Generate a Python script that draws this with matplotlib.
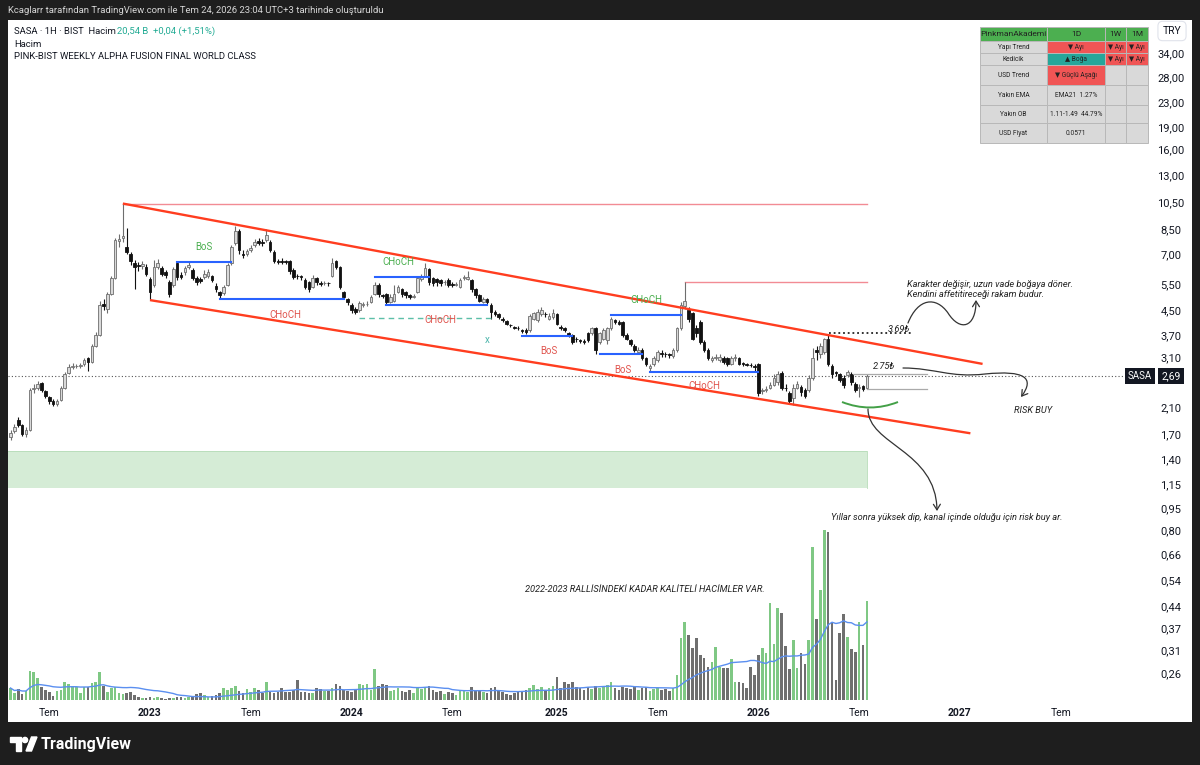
import matplotlib
matplotlib.use("Agg")
import matplotlib.pyplot as plt
import matplotlib.dates as mdates
from matplotlib.patches import Rectangle, PathPatch, FancyArrowPatch, Polygon, Circle
from matplotlib.path import Path
from matplotlib.ticker import NullLocator
import numpy as np
import pandas as pd

plt.rcParams['font.family'] = ['Roboto', 'DejaVu Sans']

# ---- weekly SASA candles ----
first_week = "2022-04-25"
opens = [1.66, 1.74, 1.90, 1.82, 1.70, 1.76, 2.42, 2.45, 2.53, 2.38,
         2.28, 2.20, 2.15, 2.22, 2.45, 2.75, 2.88, 2.90, 2.90, 2.94,
         3.08, 3.00, 3.40, 3.70, 4.72, 4.55, 5.10, 5.80, 7.75, 7.95,
         7.40, 7.00, 6.50, 6.42, 6.35, 6.30, 5.75, 5.50, 6.30, 6.25,
         6.05, 5.60, 5.50, 6.50, 5.95, 6.05, 6.30, 6.15, 5.80, 5.75,
         5.85, 5.90, 5.90, 5.45, 5.20, 5.15, 5.50, 6.50, 7.60, 8.40,
         7.00, 7.00, 7.20, 7.50, 7.75, 7.70, 7.80, 7.70, 7.10, 6.62,
         6.60, 6.60, 6.60, 6.15, 5.90, 5.88, 5.70, 5.60, 5.40, 5.80,
         5.56, 5.55, 5.56, 5.90, 6.60, 6.30, 5.20, 4.90, 4.70, 4.55,
         4.50, 4.70, 4.72, 4.80, 5.10, 5.50, 5.06, 5.10, 4.80, 4.85,
         5.20, 5.30, 5.20, 5.05, 5.00, 5.20, 5.75, 5.90, 6.20, 5.80,
         5.75, 5.70, 5.60, 5.70, 5.52, 5.50, 5.40, 5.78, 5.75, 5.70,
         5.30, 5.05, 4.80, 4.90, 4.70, 4.45, 4.35, 4.20, 4.12, 4.02,
         3.94, 3.92, 3.84, 3.86, 3.85, 4.20, 4.15, 4.35, 4.36, 4.20,
         4.25, 4.35, 3.95, 3.90, 3.75, 3.70, 3.60, 3.55, 3.52, 3.75,
         3.75, 3.90, 3.50, 3.60, 3.55, 3.90, 4.15, 4.10, 4.10, 3.70,
         3.55, 3.40, 3.25, 3.30, 3.10, 2.85, 2.95, 3.05, 3.22, 3.20,
         3.18, 3.15, 3.30, 3.90, 4.65, 4.50, 4.40, 3.90, 4.10, 3.50,
         3.30, 3.05, 3.10, 3.05, 3.10, 3.10, 2.95, 3.08, 3.10, 2.96,
         2.94, 2.93, 2.90, 2.95, 2.38, 2.40, 2.45, 2.50, 2.55, 2.75,
         2.45, 2.35, 2.25, 2.45, 2.46, 2.40, 2.40, 2.65, 3.30, 3.20,
         3.25, 3.60, 2.90, 2.76, 2.72, 2.65, 2.70, 2.72, 2.52, 2.44,
         2.47, 2.45]
closes = [1.72, 1.80, 1.82, 1.70, 1.76, 2.40, 2.44, 2.52, 2.40, 2.30,
          2.20, 2.15, 2.20, 2.45, 2.72, 2.88, 2.90, 2.91, 2.92, 3.03,
          3.00, 3.40, 3.70, 4.70, 4.66, 5.10, 5.80, 7.80, 7.90, 8.05,
          7.10, 6.60, 6.30, 6.35, 6.45, 6.00, 5.20, 6.30, 6.50, 6.00,
          5.95, 5.10, 6.20, 5.85, 5.85, 6.25, 6.40, 5.80, 5.60, 5.65,
          6.00, 6.05, 5.70, 5.30, 5.05, 5.40, 6.40, 7.40, 8.40, 7.20,
          6.95, 7.15, 7.35, 7.70, 7.65, 7.60, 8.10, 7.20, 6.60, 6.56,
          6.55, 6.55, 6.10, 5.85, 5.88, 5.85, 5.40, 5.30, 5.80, 5.60,
          5.54, 5.58, 5.55, 6.50, 6.30, 5.40, 5.00, 4.80, 4.52, 4.45,
          4.75, 4.72, 4.74, 5.00, 5.50, 5.10, 5.02, 4.80, 5.00, 5.10,
          5.40, 5.10, 5.05, 5.00, 5.02, 5.80, 5.90, 6.25, 5.60, 5.55,
          5.60, 5.55, 5.62, 5.50, 5.50, 5.52, 5.70, 5.82, 5.85, 5.30,
          5.05, 4.85, 4.90, 4.80, 4.45, 4.35, 4.25, 4.15, 4.05, 4.00,
          3.92, 3.90, 3.82, 3.78, 4.30, 4.40, 4.45, 4.50, 4.35, 4.30,
          4.40, 4.05, 3.90, 3.85, 3.70, 3.50, 3.58, 3.52, 3.50, 3.55,
          3.90, 3.30, 3.75, 3.85, 3.90, 4.20, 4.10, 4.05, 3.70, 3.60,
          3.45, 3.30, 3.30, 3.10, 2.95, 2.90, 3.10, 3.25, 3.18, 3.18,
          3.16, 3.30, 3.90, 4.70, 4.85, 4.20, 3.60, 3.75, 3.50, 3.30,
          3.10, 3.10, 3.12, 3.12, 3.00, 2.95, 3.10, 3.12, 2.95, 2.95,
          2.93, 2.92, 2.88, 2.35, 2.40, 2.42, 2.50, 2.65, 2.72, 2.45,
          2.44, 2.20, 2.45, 2.52, 2.36, 2.30, 2.65, 3.10, 3.25, 3.40,
          3.60, 2.95, 2.72, 2.74, 2.60, 2.50, 2.76, 2.55, 2.40, 2.46,
          2.43, 2.69]
highs = [1.75, 1.84, 1.94, 1.84, 1.80, 2.45, 2.52, 2.58, 2.55, 2.40,
         2.30, 2.24, 2.24, 2.48, 2.76, 2.95, 2.96, 2.95, 2.96, 3.10,
         3.12, 3.45, 3.78, 4.85, 4.90, 5.20, 5.90, 7.95, 8.20, 10.40,
         8.60, 7.10, 6.70, 6.55, 6.60, 6.45, 5.85, 6.70, 6.75, 6.35,
         6.15, 5.70, 6.30, 6.55, 6.05, 6.35, 6.55, 6.25, 5.90, 5.85,
         6.15, 6.20, 5.95, 5.55, 5.25, 5.50, 6.50, 7.50, 8.75, 8.50,
         7.20, 7.30, 7.50, 7.90, 7.95, 7.85, 8.50, 7.80, 7.20, 6.75,
         6.80, 6.70, 6.70, 6.25, 6.00, 5.95, 5.80, 5.65, 5.95, 5.85,
         5.65, 5.65, 5.62, 6.80, 6.70, 6.35, 5.25, 4.95, 4.75, 4.60,
         4.85, 4.80, 4.85, 5.05, 5.60, 5.55, 5.10, 5.15, 5.10, 5.50,
         5.50, 5.35, 5.25, 5.10, 5.10, 5.85, 6.00, 6.50, 6.25, 5.85,
         5.80, 5.75, 5.70, 5.80, 5.60, 5.60, 5.80, 5.95, 6.10, 5.75,
         5.35, 5.10, 4.98, 4.95, 4.75, 4.50, 4.40, 4.25, 4.15, 4.05,
         3.98, 3.96, 3.88, 3.90, 4.35, 4.45, 4.55, 4.60, 4.45, 4.40,
         4.55, 4.40, 4.00, 3.95, 3.80, 3.72, 3.65, 3.60, 3.58, 3.80,
         3.95, 3.95, 3.80, 3.90, 3.95, 4.25, 4.20, 4.15, 4.12, 3.75,
         3.60, 3.45, 3.38, 3.35, 3.12, 2.95, 3.15, 3.30, 3.28, 3.25,
         3.22, 3.35, 3.95, 4.80, 5.60, 4.60, 4.45, 4.00, 4.15, 3.55,
         3.35, 3.15, 3.18, 3.18, 3.14, 3.12, 3.15, 3.18, 3.12, 3.00,
         2.98, 2.96, 2.95, 2.98, 2.45, 2.48, 2.56, 2.72, 2.80, 2.80,
         2.52, 2.38, 2.52, 2.58, 2.50, 2.44, 2.70, 3.35, 3.40, 3.48,
         3.62, 3.69, 2.95, 2.80, 2.75, 2.70, 2.82, 2.76, 2.55, 2.52,
         2.50, 2.72]
lows = [1.62, 1.72, 1.80, 1.68, 1.66, 1.74, 2.34, 2.40, 2.36, 2.26,
        2.16, 2.12, 2.12, 2.20, 2.42, 2.72, 2.84, 2.86, 2.86, 2.90,
        2.80, 2.98, 3.38, 3.68, 4.50, 4.40, 5.05, 5.75, 7.40, 7.70,
        7.00, 6.40, 5.30, 6.10, 6.20, 5.90, 4.88, 5.40, 6.20, 5.90,
        5.80, 5.00, 5.40, 5.70, 5.75, 5.95, 6.20, 5.70, 5.50, 5.55,
        5.75, 5.80, 5.60, 5.20, 4.92, 5.05, 5.45, 6.40, 7.50, 7.00,
        6.80, 6.90, 7.10, 7.40, 7.50, 7.45, 7.70, 7.10, 6.50, 6.45,
        6.45, 6.45, 6.00, 5.75, 5.75, 5.70, 5.30, 5.20, 5.35, 5.50,
        5.45, 5.48, 5.45, 5.85, 6.20, 5.30, 4.90, 4.70, 4.40, 4.35,
        4.45, 4.62, 4.65, 4.75, 5.05, 5.00, 4.95, 4.70, 4.75, 4.80,
        5.15, 5.00, 4.95, 4.92, 4.95, 5.15, 5.65, 5.85, 5.50, 5.45,
        5.45, 5.45, 5.50, 5.40, 5.40, 5.42, 5.35, 5.70, 5.70, 5.20,
        4.95, 4.80, 4.75, 4.72, 4.20, 4.30, 4.20, 4.10, 4.00, 3.95,
        3.88, 3.85, 3.76, 3.72, 3.80, 4.15, 4.10, 4.30, 4.28, 4.15,
        4.20, 4.00, 3.85, 3.80, 3.65, 3.45, 3.50, 3.48, 3.45, 3.50,
        3.70, 3.20, 3.45, 3.55, 3.45, 3.85, 4.05, 4.00, 3.65, 3.55,
        3.40, 3.25, 3.20, 3.05, 2.90, 2.80, 2.90, 3.00, 3.12, 3.12,
        3.10, 3.10, 3.25, 3.85, 4.55, 4.10, 3.55, 3.65, 3.45, 3.25,
        3.05, 3.00, 3.05, 3.00, 2.95, 2.90, 2.92, 3.02, 2.92, 2.90,
        2.90, 2.88, 2.80, 2.30, 2.32, 2.36, 2.42, 2.48, 2.50, 2.40,
        2.38, 2.15, 2.13, 2.42, 2.30, 2.26, 2.36, 2.60, 3.05, 3.10,
        3.20, 2.90, 2.65, 2.68, 2.55, 2.45, 2.66, 2.50, 2.36, 2.28,
        2.38, 2.42]
# weekly volume, billion TRY
volumes = [2.4, 1.4, 2.2, 1.2, 1.8, 5.8, 5.6, 4.4, 2.6, 2.0,
           1.6, 0.8, 1.8, 2.0, 3.6, 3.2, 2.8, 2.6, 1.4, 2.6,
           2.6, 3.4, 3.6, 5.6, 2.8, 1.6, 2.4, 2.6, 1.4, 1.2,
           1.4, 1.6, 1.0, 0.6, 0.4, 0.4, 0.6, 0.4, 0.6, 0.4,
           0.2, 0.4, 0.4, 0.6, 0.6, 0.4, 0.6, 0.6, 1.2, 1.4,
           1.0, 0.6, 0.8, 1.0, 1.4, 2.4, 2.0, 2.4, 2.8, 1.8,
           1.4, 2.2, 1.6, 2.4, 2.0, 1.4, 3.6, 1.6, 1.4, 1.6,
           2.4, 1.6, 1.6, 2.0, 4.0, 1.6, 1.6, 1.4, 1.4, 2.4,
           2.2, 1.8, 1.8, 2.4, 3.2, 2.8, 2.0, 1.8, 1.6, 2.2,
           3.2, 3.0, 3.2, 2.0, 6.2, 2.8, 3.2, 3.0, 1.8, 2.0,
           2.4, 1.8, 1.6, 2.0, 1.4, 2.4, 2.2, 2.6, 2.8, 2.0,
           1.6, 1.8, 1.2, 1.6, 1.4, 1.0, 1.8, 2.0, 1.6, 2.6,
           1.8, 2.0, 1.6, 1.4, 2.4, 2.6, 1.8, 1.6, 1.2, 1.0,
           1.4, 1.6, 1.8, 2.0, 2.4, 3.0, 2.2, 2.6, 1.8, 2.4,
           2.8, 4.6, 2.4, 3.6, 3.2, 3.6, 2.6, 2.4, 2.0, 2.6,
           2.2, 2.8, 2.4, 2.6, 3.0, 3.6, 2.4, 2.0, 2.6, 2.4,
           2.2, 2.8, 2.0, 2.4, 2.6, 1.8, 2.2, 2.4, 2.0, 2.2,
           1.8, 2.4, 5.0, 12.4, 15.6, 13.0, 10.4, 12.4, 9.0, 8.4,
           6.6, 7.6, 10.6, 6.6, 6.4, 6.4, 8.2, 3.6, 3.6, 3.4,
           2.4, 6.6, 5.0, 9.0, 10.4, 9.4, 19.4, 11.2, 18.4, 17.4,
           10.8, 6.2, 12.0, 6.4, 9.4, 7.2, 12.0, 30.6, 16.2, 22.0,
           34.0, 33.6, 15.4, 4.0, 13.4, 17.2, 12.6, 10.2, 9.6, 15.6,
           11.0, 19.8]

last_price = 2.69
price_ticks = [34, 28, 23, 19, 16, 13, 10.5, 8.5, 7, 5.5, 4.5, 3.7, 3.1, 2.1,
               1.7, 1.4, 1.15, 0.95, 0.8, 0.66, 0.54, 0.44, 0.37, 0.31, 0.26]
price_labels = ["34,00", "28,00", "23,00", "19,00", "16,00", "13,00", "10,50",
                "8,50", "7,00", "5,50", "4,50", "3,70", "3,10", "2,10", "1,70",
                "1,40", "1,15", "0,95", "0,80", "0,66", "0,54", "0,44", "0,37",
                "0,31", "0,26"]
time_ticks = ["2022-07-04", "2023-01-02", "2023-07-03", "2024-01-01", "2024-07-01",
              "2025-01-06", "2025-07-07", "2026-01-05", "2026-07-06", "2027-01-04",
              "2027-07-05"]
time_labels = ["Tem", "2023", "Tem", "2024", "Tem", "2025", "Tem", "2026", "Tem",
               "2027", "Tem"]

# drawings on the chart (date, price)
channel_upper = [("2022-11-14", 10.40), ("2027-02-14", 2.95)]
channel_lower = [("2023-01-02", 4.87), ("2027-01-23", 1.71)]
peak_levels = [("2022-11-14", 10.40), ("2025-08-25", 5.60)]
structure_levels = [("2023-02-20", "2023-05-29", 6.57),
                    ("2023-05-08", "2023-12-18", 4.91),
                    ("2024-02-12", "2024-05-20", 5.84),
                    ("2024-03-04", "2024-09-02", 4.69),
                    ("2024-11-04", "2025-02-03", 3.67),
                    ("2025-03-24", "2025-06-09", 3.19),
                    ("2025-04-14", "2025-08-18", 4.33),
                    ("2025-06-23", "2026-01-05", 2.77)]
dashed_level = ("2024-01-15", "2024-09-09", 4.24)
structure_labels = [("BoS", "2023-04-10", 7.40, "bull"),
                    ("CHoCH", "2023-09-04", 4.33, "bear"),
                    ("CHoCH", "2024-03-25", 6.57, "bull"),
                    ("CHoCH", "2024-06-10", 4.17, "bear"),
                    ("x", "2024-09-02", 3.56, "teal"),
                    ("BoS", "2024-12-23", 3.26, "bear"),
                    ("BoS", "2025-05-05", 2.81, "bear"),
                    ("CHoCH", "2025-06-16", 4.87, "bull"),
                    ("CHoCH", "2025-09-29", 2.48, "bear")]
ob_low, ob_high = 1.11, 1.49

label_colors = {"bull": "#4caf50", "bear": "#e0554f", "teal": "#4db6ac"}

# ---- figure / layout (pixel based) ----
W, H = 1200, 765
fig = plt.figure(figsize=(12, 7.65), dpi=100)
fig.patch.set_facecolor('#1e1e1e')


def rect(x0, y0, x1, y1):
    return [x0 / W, 1 - y1 / H, (x1 - x0) / W, (y1 - y0) / H]


bg = fig.add_axes([0, 0, 1, 1], zorder=0)
bg.set_xlim(0, W)
bg.set_ylim(H, 0)
bg.axis('off')
bg.add_patch(Rectangle((8, 20), 1184, 702, facecolor='white', edgecolor='none'))

ax = fig.add_axes(rect(8, 20, 1143, 702), zorder=2)
ax.patch.set_alpha(0)
vax = fig.add_axes(rect(8, 20, 1143, 702), zorder=1, sharex=ax)
vax.patch.set_alpha(0)
vax.axis('off')

dates = pd.date_range(first_week, periods=len(closes), freq="7D")
x = mdates.date2num(dates)
o = np.array(opens)
c = np.array(closes)
hi = np.array(highs)
lo = np.array(lows)
up = c >= o

ax.set_yscale('log')
anchor = mdates.date2num(pd.Timestamp("2023-01-02"))
ax.set_xlim(anchor - (150 - 8) / 3.875 * 7, anchor + (1143 - 150) / 3.875 * 7)
ax.set_ylim(0.207, 44.0)

# order block zone
ax.fill_between([ax.get_xlim()[0], x[-1]], ob_low, ob_high, color='#c8e6c9',
                alpha=0.75, lw=0, zorder=1)
ax.plot([ax.get_xlim()[0], x[-1], x[-1]], [ob_high, ob_high, ob_low],
        color='#b5dcb7', lw=0.6, zorder=1)

# candles
ax.vlines(x[up], lo[up], hi[up], color='#6e6e6e', lw=0.8, zorder=3)
ax.vlines(x[~up], lo[~up], hi[~up], color='#111111', lw=0.8, zorder=3)
body_lo = np.minimum(o, c)
body_h = np.abs(c - o)
ax.bar(x[up], body_h[up], bottom=body_lo[up], width=4.6, color='#d9d9d9',
       edgecolor='#6e6e6e', lw=0.6, zorder=4)
ax.bar(x[~up], body_h[~up], bottom=body_lo[~up], width=4.6, color='#111111',
       edgecolor='#111111', lw=0.6, zorder=4)

# last price line
ax.axhline(last_price, color='#555555', lw=0.8, ls=(0, (1, 2)), zorder=2)

# channel
for line in (channel_upper, channel_lower):
    xs = [mdates.date2num(pd.Timestamp(d)) for d, _ in line]
    ys = [p for _, p in line]
    ax.plot(xs, ys, color='#ff3d1f', lw=1.7, zorder=5, solid_capstyle='butt')

# peak levels
for d, p in peak_levels:
    ax.plot([mdates.date2num(pd.Timestamp(d)), x[-1]], [p, p], color='#f28b94',
            lw=1.0, zorder=2)

# structure levels
for d1, d2, p in structure_levels:
    ax.plot([mdates.date2num(pd.Timestamp(d1)), mdates.date2num(pd.Timestamp(d2))],
            [p, p], color='#2962ff', lw=1.5, zorder=5)
ax.plot([mdates.date2num(pd.Timestamp(dashed_level[0])),
         mdates.date2num(pd.Timestamp(dashed_level[1]))],
        [dashed_level[2]] * 2, color='#5cbfa8', lw=1.0, ls=(0, (4, 3)), zorder=5)
for txt, d, p, kind in structure_labels:
    ax.text(mdates.date2num(pd.Timestamp(d)), p, txt, color=label_colors[kind],
            fontsize=7, ha='center', va='center', zorder=6)

# volume
vol = np.array(volumes)
vax.bar(x, vol, width=4.6, color=np.where(up, '#7fc884', '#6f6f6f'), lw=0)
vax.plot(x, pd.Series(vol).rolling(20, min_periods=1).mean(), color='#5b8ff0', lw=1.0)
vax.set_ylim(-0.4, 136.0)

# axes styling
for s in ax.spines.values():
    s.set_visible(False)
ax.yaxis.tick_right()
ax.yaxis.set_minor_locator(NullLocator())
ax.set_yticks(price_ticks)
ax.set_yticklabels(price_labels)
ax.tick_params(axis='y', length=0, pad=20, labelsize=8, labelcolor='#131722')
for lbl in ax.get_yticklabels():
    lbl.set_horizontalalignment('center')
ax.set_xticks([mdates.date2num(pd.Timestamp(d)) for d in time_ticks])
ax.set_xticklabels(time_labels)
ax.xaxis.set_minor_locator(NullLocator())
ax.tick_params(axis='x', length=0, pad=4, labelsize=7.5, labelcolor='#131722')
for lbl in ax.get_xticklabels():
    if lbl.get_text().isdigit():
        lbl.set_fontweight('bold')

# ---- pixel overlay: chrome, header, table, notes ----
ov = fig.add_axes([0, 0, 1, 1], zorder=3)
ov.set_xlim(0, W)
ov.set_ylim(H, 0)
ov.axis('off')
ov.patch.set_alpha(0)

ov.text(8, 10, "Kcaglarr tarafından TradingView.com ile Tem 24, 2026 23:04 UTC+3 tarihinde oluşturuldu",
        color='#d6d6d6', fontsize=6.8, va='center', ha='left')
head = ov.text(14, 31, "SASA · 1H · BIST  Hacim", color='#131722', fontsize=6.8, va='center')
fig.canvas.draw()
head_end = head.get_window_extent().x1
ov.text(head_end + 1, 31, "20,54 B  +0,04 (+1,51%)", color='#22ab94', fontsize=6.8, va='center')
ov.text(14, 44, "Hacim", color='#131722', fontsize=6.8, va='center')
ov.text(14, 56, "PINK-BIST WEEKLY ALPHA FUSION FINAL WORLD CLASS", color='#131722',
        fontsize=6.8, va='center')

# TradingView logo
ov.add_patch(Polygon([(10, 737), (21, 737), (21, 751), (16, 751), (16, 742), (10, 742)],
                     closed=True, color='white'))
ov.add_patch(Circle((25, 740), 2.6, color='white'))
ov.add_patch(Polygon([(26, 751), (31.5, 737), (37, 737), (31.5, 751)], closed=True, color='white'))
ov.text(41, 744, "TradingView", color='white', fontsize=11.5, fontweight='bold', va='center')

# price scale extras
ov.text(1172, 31, "TRY", color='#131722', fontsize=7.5, ha='center', va='center',
        bbox=dict(boxstyle='round,pad=0.45', fc='white', ec='#e0e3eb', lw=0.8))
ov.text(1140, 376, "SASA", color='white', fontsize=7, ha='center', va='center',
        bbox=dict(boxstyle='square,pad=0.3', fc='#131722', ec='none'))
ov.text(1171, 376, "2,69", color='white', fontsize=7.5, ha='center', va='center',
        bbox=dict(boxstyle='square,pad=0.3', fc='#131722', ec='none'))

# info table
table_rows = ["PinkmanAkademi", "Yapı Trend", "Kedicik", "USD Trend", "Yakın EMA",
              "Yakın OB", "USD Fiyat"]
table_1d = ["1D", "▼ Ayı", "▲ Boğa", "▼ Güçlü Aşağı", "EMA21  1.27%",
            "1.11-1.49  44.79%", "0.0571"]
table_1w = ["1W", "▼ Ayı", "▼ Ayı", "", "", "", ""]
table_1m = ["1M", "▼ Ayı", "▼ Ayı", "", "", "", ""]
col_x = [980, 1047, 1105, 1126, 1148]
row_y = [27, 41, 53, 65, 85, 105, 123, 143]


def cell_color(r, txt):
    if r == 0:
        return '#4caf50'
    if txt.startswith('▼'):
        return '#f05555'
    if txt.startswith('▲'):
        return '#26a69a'
    return '#d9d9d9'


for r in range(len(table_rows)):
    cells = [table_rows[r], table_1d[r], table_1w[r], table_1m[r]]
    for ci, txt in enumerate(cells):
        x0, x1 = col_x[ci], col_x[ci + 1]
        y0, y1 = row_y[r], row_y[r + 1]
        fc = '#4caf50' if r == 0 else ('#d9d9d9' if ci == 0 else cell_color(r, txt))
        ov.add_patch(Rectangle((x0, y0), x1 - x0, y1 - y0, fc=fc, ec='#b8b8b8', lw=0.7))
        if txt:
            fs = 6 if r == 0 else 4.8
            ov.text((x0 + x1) / 2, (y0 + y1) / 2, txt, fontsize=fs, color='#222222',
                    ha='center', va='center')

# notes on the right side
note = dict(color='#222222', fontsize=6.7, style='italic', va='center')
ov.text(907, 284, "Karakter değişir, uzun vade boğaya döner.", ha='left', **note)
ov.text(907, 294, "Kendini affetitireceği rakam budur.", ha='left', **note)
ov.text(888, 329, "3.69₺", ha='left', **note)
ov.text(873, 366, "2.75₺", ha='left', **note)
ov.text(1033, 410, "RISK BUY", ha='center', **note)
ov.text(947, 517, "Yıllar sonra yüksek dip, kanal içinde olduğu için risk buy ar.",
        ha='center', **note)
ov.text(645, 590, "2022-2023 RALLİSİNDEKİ KADAR KALİTELİ HACİMLER VAR.", ha='center', **note)

ov.plot([829, 912], [333, 333], color='#222222', lw=1.3, ls=(0, (1, 1.6)))
ov.plot([853, 927], [374, 374], color='#aaaaaa', lw=0.9)
ov.plot([867, 927], [389, 389], color='#aaaaaa', lw=0.9)

ov.add_patch(PathPatch(Path([(842, 402), (870, 413), (898, 402)],
                            [Path.MOVETO, Path.CURVE3, Path.CURVE3]),
                       fc='none', ec='#43a047', lw=1.4))

C4 = [Path.MOVETO, Path.CURVE4, Path.CURVE4, Path.CURVE4]
C44 = C4 + [Path.CURVE4, Path.CURVE4, Path.CURVE4]
curves = [
    Path([(908, 323), (918, 298), (936, 296), (948, 313), (960, 332), (976, 328), (976, 300)], C44),
    Path([(903, 368), (935, 368), (950, 378), (985, 374), (1025, 370), (1035, 378), (1021, 397)], C44),
    Path([(868, 409), (868, 445), (936, 450), (937, 511)], C4),
]
for p in curves:
    ov.add_patch(FancyArrowPatch(path=p, arrowstyle='->,head_length=4,head_width=2.5',
                                 color='#333333', lw=0.9, mutation_scale=1))

fig.savefig("out.png", dpi=100, facecolor=fig.get_facecolor())
